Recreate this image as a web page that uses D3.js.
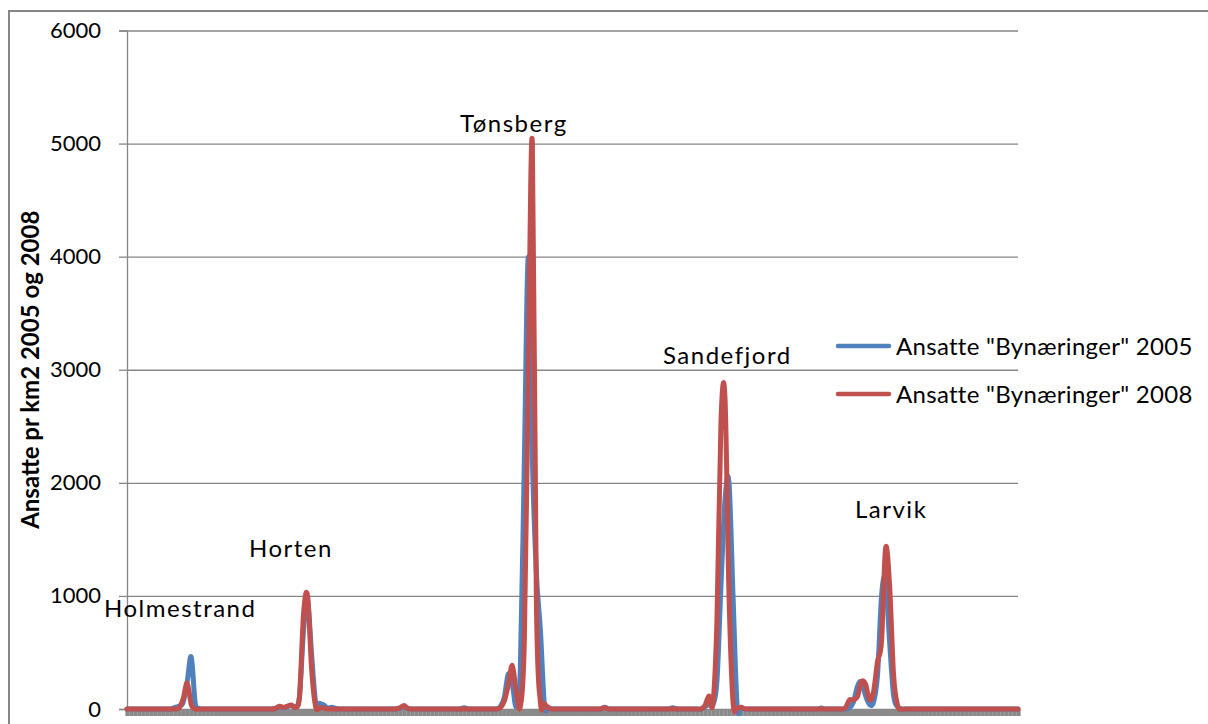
<!DOCTYPE html>
<html>
<head>
<meta charset="utf-8">
<script src="https://cdn.jsdelivr.net/npm/d3@7"></script>
<style>
  html, body { margin: 0; padding: 0; background: #fff; }
  svg { display: block; font-family: Lato, "Noto Sans", sans-serif; }
</style>
</head>
<body>
<svg id="chart" width="1208" height="724"></svg>
<script>
// Employees per km2 in city-type industries along a transect through Vestfold
const yTicks = [0, 1000, 2000, 3000, 4000, 5000, 6000];

const seriesNames = ['Ansatte "Bynæringer" 2005', 'Ansatte "Bynæringer" 2008'];

const values2005 = [
  0, 0, 0, 0, 0, 0, 0, 0, 0, 0,
  0, 0, 15, 25, 60, 240, 460, 50, 5, 0,
  0, 0, 0, 0, 0, 0, 0, 0, 0, 0,
  0, 0, 0, 0, 0, 0, 0, 5, 20, 10,
  20, 30, 20, 120, 700, 960, 480, 60, 50, 35,
  10, 15, 5, 0, 0, 0, 0, 0, 0, 0,
  0, 0, 0, 0, 0, 0, 0, 0, 5, 20,
  5, 0, 0, 0, 0, 0, 0, 0, 0, 0,
  0, 0, 0, 0, 10, 0, 0, 0, 0, 0,
  0, 0, 0, 20, 100, 310, 220, 20, 350, 2200,
  4000, 2200, 1200, 700, 40, 15, 0, 0, 0, 0,
  0, 0, 0, 0, 0, 0, 0, 0, 0, 15,
  0, 0, 0, 0, 0, 0, 0, 0, 0, 0,
  0, 0, 0, 0, 0, 0, 10, 0, 0, 0,
  0, 0, 0, 0, 20, 40, 40, 250, 1100, 1850,
  2000, 1000, 40, 10, 0, 0, 0, 0, 0, 0,
  0, 0, 0, 0, 0, 0, 0, 0, 0, 0,
  0, 0, 0, 8, 0, 0, 0, 0, 0, 0,
  10, 60, 200, 240, 120, 40, 60, 300, 1000, 1150,
  600, 120, 20, 0, 0, 0, 0, 0, 0, 0,
  0, 0, 0, 0, 0, 0, 0, 0, 0, 0,
  0, 0, 0, 0, 0, 0, 0, 0, 0, 0,
  0, 0, 0
];

const values2008 = [
  0, 0, 0, 0, 0, 0, 0, 0, 0, 0,
  0, 0, 0, 10, 90, 230, 40, 0, 0, 0,
  0, 0, 0, 0, 0, 0, 0, 0, 0, 0,
  0, 0, 0, 0, 0, 0, 0, 5, 25, 15,
  25, 35, 15, 120, 850, 1000, 350, 20, 10, 10,
  0, 0, 0, 0, 0, 0, 0, 0, 0, 0,
  0, 0, 0, 0, 0, 0, 0, 0, 10, 30,
  5, 0, 0, 0, 0, 0, 0, 0, 0, 0,
  0, 0, 0, 0, 0, 0, 0, 0, 0, 0,
  0, 0, 0, 10, 70, 210, 385, 150, 20, 600,
  3000, 5000, 950, 60, 45, 10, 0, 0, 0, 0,
  0, 0, 0, 0, 0, 0, 0, 0, 0, 10,
  0, 0, 0, 0, 0, 0, 0, 0, 0, 0,
  0, 0, 0, 0, 0, 0, 0, 0, 0, 0,
  0, 0, 0, 0, 30, 115, 50, 800, 2550, 2750,
  1000, 60, 10, 15, 0, 0, 0, 0, 0, 0,
  0, 0, 0, 0, 0, 0, 0, 0, 0, 0,
  0, 0, 0, 0, 0, 0, 0, 0, 0, 10,
  80, 80, 110, 240, 220, 80, 150, 420, 600, 1420,
  1100, 300, 30, 0, 0, 0, 0, 0, 0, 0,
  0, 0, 0, 0, 0, 0, 0, 0, 0, 0,
  0, 0, 0, 0, 0, 0, 0, 0, 0, 0,
  0, 0, 0
];

const categories = d3.range(values2005.length);

// Town names written over their peaks
const townLabels = [
  { text: "Holmestrand", x: 104, y: 617 },
  { text: "Horten", x: 249, y: 557 },
  { text: "Tønsberg", x: 460, y: 131.5 },
  { text: "Sandefjord", x: 663, y: 363.5 },
  { text: "Larvik", x: 855, y: 517.5 }
];

const colors = ["#4F81BD", "#C0504D"];
const gridColor = "#868686";

const plot = { left: 127, right: 1018, top: 30.5, bottom: 709 };

const svg = d3.select("#chart");

// chart frame
svg.append("rect")
  .attr("x", 9).attr("y", 11)
  .attr("width", 1240).attr("height", 740)
  .attr("fill", "none")
  .attr("stroke", gridColor)
  .attr("stroke-width", 2);

const x = d3.scalePoint()
  .domain(categories)
  .range([plot.left, plot.right]);

const y = d3.scaleLinear()
  .domain([0, 6000])
  .range([plot.bottom, plot.top]);

// horizontal gridlines
svg.append("g")
  .attr("transform", `translate(${plot.left},0)`)
  .call(d3.axisLeft(y).tickValues(yTicks.filter(d => d > 0))
    .tickSize(-(plot.right - plot.left)).tickFormat(""))
  .call(g => g.select(".domain").remove())
  .call(g => g.selectAll(".tick line")
    .attr("stroke", gridColor).attr("stroke-width", 1.3));

// y axis
const yAxis = svg.append("g")
  .attr("transform", `translate(${plot.left},0)`)
  .call(d3.axisLeft(y).tickValues(yTicks).tickSize(8).tickPadding(18)
    .tickFormat(d3.format("d")));
yAxis.select(".domain").attr("stroke", gridColor).attr("stroke-width", 1.3);
yAxis.selectAll(".tick line").attr("stroke", gridColor).attr("stroke-width", 1.3);
yAxis.selectAll(".tick text")
  .attr("fill", "#000")
  .style("font-size", "22px")
  .style("font-family", "Lato, sans-serif");

// category axis: one tick per point, packed into a solid band
const step = x.step();
const xAxis = svg.append("g")
  .attr("transform", `translate(0,${plot.bottom})`)
  .call(d3.axisBottom(x).tickSize(7).tickFormat(""));
xAxis.select(".domain").attr("stroke", gridColor).attr("stroke-width", 1.3);
xAxis.selectAll(".tick line")
  .attr("stroke", "#8a8a8a")
  .attr("stroke-width", step + 0.2);

// y axis title
svg.append("text")
  .attr("transform", `translate(39,${(plot.top + plot.bottom) / 2}) rotate(-90)`)
  .attr("text-anchor", "middle")
  .style("font-size", "24px")
  .style("font-weight", "bold")
  .text("Ansatte pr km2 2005 og 2008");

// smoothed series lines
const line = d3.line()
  .x((d, i) => x(i))
  .y(d => y(d))
  .curve(d3.curveCardinal.tension(0));

[values2005, values2008].forEach((vals, k) => {
  svg.append("path")
    .datum(vals)
    .attr("fill", "none")
    .attr("stroke", colors[k])
    .attr("stroke-width", 5)
    .attr("stroke-linejoin", "round")
    .attr("stroke-linecap", "round")
    .attr("d", line);
});

// town labels
svg.append("g")
  .selectAll("text")
  .data(townLabels)
  .join("text")
  .attr("x", d => d.x)
  .attr("y", d => d.y)
  .style("font-size", "24px")
  .style("letter-spacing", "1.5px")
  .text(d => d.text);

// legend
const legend = svg.append("g");
const legendRows = [346, 394];
seriesNames.forEach((name, k) => {
  legend.append("line")
    .attr("x1", 838).attr("x2", 889)
    .attr("y1", legendRows[k]).attr("y2", legendRows[k])
    .attr("stroke", colors[k])
    .attr("stroke-width", 4.5)
    .attr("stroke-linecap", "round");
  legend.append("text")
    .attr("x", 896)
    .attr("y", legendRows[k] + 9)
    .style("font-size", "24px")
    .style("letter-spacing", "0.3px")
    .text(name);
});
</script>
</body>
</html>
